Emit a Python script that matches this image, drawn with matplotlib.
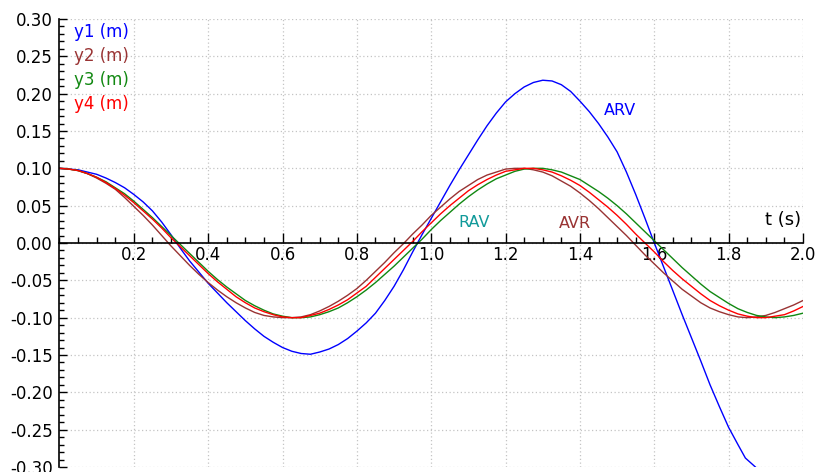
import matplotlib
matplotlib.use("Agg")
import matplotlib.pyplot as plt
from matplotlib.ticker import MultipleLocator, FormatStrFormatter

plt.rcParams['font.family'] = ['DejaVu Sans']
plt.rcParams['axes.unicode_minus'] = False

# time samples (s)
t = [0.000, 0.025, 0.050, 0.075, 0.100, 0.125, 0.150, 0.175, 0.200, 0.225,
     0.250, 0.275, 0.300, 0.325, 0.350, 0.375, 0.400, 0.425, 0.450, 0.475,
     0.500, 0.525, 0.550, 0.575, 0.600, 0.625, 0.650, 0.675, 0.700, 0.725,
     0.750, 0.775, 0.800, 0.825, 0.850, 0.875, 0.900, 0.925, 0.950, 0.975,
     1.000, 1.025, 1.050, 1.075, 1.100, 1.125, 1.150, 1.175, 1.200, 1.225,
     1.250, 1.275, 1.300, 1.325, 1.350, 1.375, 1.400, 1.425, 1.450, 1.475,
     1.500, 1.525, 1.550, 1.575, 1.600, 1.625, 1.650, 1.675, 1.700, 1.725,
     1.750, 1.775, 1.800, 1.825, 1.850, 1.875, 1.900, 1.925, 1.950, 1.975,
     2.000]

# y1 (ARV) leaves the plot at the bottom, so it stops early
t1 = t[:74] + [1.845, 1.872]
y1 = [0.100, 0.099, 0.098, 0.095, 0.092, 0.087, 0.081, 0.074, 0.065, 0.055,
      0.043, 0.028, 0.011, -0.007, -0.024, -0.039, -0.054, -0.067, -0.080, -0.092,
      -0.104, -0.115, -0.125, -0.133, -0.140, -0.145, -0.148, -0.149, -0.146, -0.142,
      -0.136, -0.128, -0.118, -0.107, -0.094, -0.077, -0.058, -0.036, -0.012, 0.011,
      0.033, 0.055, 0.077, 0.098, 0.118, 0.138, 0.157, 0.174, 0.189, 0.200,
      0.209, 0.215, 0.218, 0.217, 0.212, 0.203, 0.190, 0.176, 0.160, 0.142,
      0.122, 0.095, 0.065, 0.033, 0.000, -0.032, -0.064, -0.096, -0.127, -0.158,
      -0.190, -0.219, -0.247, -0.270, -0.288, -0.300]

y2 = [0.100, 0.099, 0.097, 0.093, 0.087, 0.080, 0.072, 0.061, 0.049, 0.037,
      0.024, 0.010, -0.004, -0.017, -0.030, -0.042, -0.053, -0.063, -0.072, -0.080,
      -0.087, -0.093, -0.097, -0.099, -0.100, -0.100, -0.099, -0.096, -0.091, -0.085,
      -0.078, -0.070, -0.061, -0.050, -0.038, -0.026, -0.013, -0.001, 0.012, 0.024,
      0.037, 0.048, 0.059, 0.069, 0.077, 0.085, 0.091, 0.095, 0.099, 0.100,
      0.100, 0.098, 0.095, 0.090, 0.083, 0.076, 0.067, 0.057, 0.046, 0.034,
      0.022, 0.010, -0.003, -0.016, -0.028, -0.040, -0.051, -0.062, -0.071, -0.080,
      -0.087, -0.092, -0.096, -0.099, -0.100, -0.099, -0.097, -0.093, -0.088, -0.083,
      -0.077]

y3 = [0.100, 0.099, 0.097, 0.093, 0.088, 0.082, 0.074, 0.066, 0.056, 0.045,
      0.034, 0.022, 0.010, -0.002, -0.014, -0.026, -0.038, -0.049, -0.059, -0.068,
      -0.077, -0.084, -0.090, -0.095, -0.098, -0.100, -0.100, -0.099, -0.096, -0.092,
      -0.087, -0.080, -0.072, -0.063, -0.053, -0.042, -0.031, -0.019, -0.007, 0.005,
      0.018, 0.030, 0.041, 0.052, 0.062, 0.071, 0.079, 0.086, 0.091, 0.096,
      0.099, 0.100, 0.100, 0.098, 0.095, 0.090, 0.085, 0.077, 0.069, 0.060,
      0.050, 0.039, 0.027, 0.015, 0.003, -0.009, -0.021, -0.033, -0.044, -0.055,
      -0.065, -0.073, -0.081, -0.088, -0.093, -0.097, -0.099, -0.100, -0.099, -0.097,
      -0.094]

y4 = [0.100, 0.099, 0.097, 0.093, 0.088, 0.081, 0.073, 0.064, 0.054, 0.043,
      0.032, 0.020, 0.007, -0.005, -0.017, -0.029, -0.041, -0.052, -0.062, -0.072,
      -0.080, -0.087, -0.092, -0.096, -0.099, -0.100, -0.100, -0.097, -0.094, -0.089,
      -0.083, -0.076, -0.067, -0.058, -0.046, -0.034, -0.022, -0.010, 0.002, 0.015,
      0.027, 0.039, 0.050, 0.060, 0.070, 0.078, 0.085, 0.091, 0.096, 0.098,
      0.100, 0.100, 0.098, 0.095, 0.090, 0.084, 0.077, 0.068, 0.058, 0.048,
      0.037, 0.025, 0.012, 0.000, -0.012, -0.025, -0.037, -0.048, -0.058, -0.068,
      -0.077, -0.084, -0.090, -0.095, -0.098, -0.100, -0.100, -0.098, -0.096, -0.091,
      -0.085]

x_ticks = [0.2, 0.4, 0.6, 0.8, 1.0, 1.2, 1.4, 1.6, 1.8, 2.0]
y_ticks = [-0.30, -0.25, -0.20, -0.15, -0.10, -0.05, 0.00,
           0.05, 0.10, 0.15, 0.20, 0.25, 0.30]

series_names = ["y1 (m)", "y2 (m)", "y3 (m)", "y4 (m)"]
colors = ["#0000ff", "#993333", "#118811", "#ff0000"]

fig = plt.figure(figsize=(8.15, 4.72), dpi=100)
ax = fig.add_axes([59.5 / 815, 5 / 472, 743.5 / 815, 448 / 472])

ax.plot(t1, y1, color=colors[0], lw=1.0)
ax.plot(t, y2, color=colors[1], lw=1.0)
ax.plot(t, y3, color=colors[2], lw=1.0)
ax.plot(t, y4, color=colors[3], lw=1.0)

ax.set_xlim(0, 2.0)
ax.set_ylim(-0.30, 0.30)

# axes cross at the origin, no box
ax.spines['left'].set_position(('data', 0))
ax.spines['bottom'].set_position(('data', 0))
ax.spines['top'].set_visible(False)
ax.spines['right'].set_visible(False)
ax.spines['left'].set_linewidth(1.2)
ax.spines['bottom'].set_linewidth(1.2)

ax.set_xticks(x_ticks)
ax.set_yticks(y_ticks)
ax.xaxis.set_minor_locator(MultipleLocator(0.05))
ax.yaxis.set_minor_locator(MultipleLocator(0.01))
ax.xaxis.set_major_formatter(FormatStrFormatter('%.1f'))
ax.yaxis.set_major_formatter(FormatStrFormatter('%.2f'))

ax.tick_params(axis='x', which='major', direction='in', length=7.5, width=1, pad=2, labelsize=12)
ax.tick_params(axis='x', which='minor', direction='in', length=4.5, width=1)
ax.tick_params(axis='y', which='major', direction='in', length=6, width=1, pad=5, labelsize=12)
ax.tick_params(axis='y', which='minor', direction='in', length=3.5, width=1)

ax.grid(True, which='major', color='#c4c4c4', linestyle=(0, (1, 2)), linewidth=0.9)
ax.set_axisbelow(True)

ax.text(1.995, 0.031, "t (s)", ha='right', va='center', fontsize=13)

for i, name in enumerate(series_names):
    ax.text(0.0195, 0.9717 - 0.0537 * i, name, color=colors[i], fontsize=12,
            ha='left', va='center', transform=ax.transAxes)

ax.text(1.115, 0.028, "RAV", color="#119a9a", fontsize=11.5, ha='center', va='center')
ax.text(1.386, 0.026, "AVR", color="#993333", fontsize=11.5, ha='center', va='center')
ax.text(1.509, 0.177, "ARV", color="#0000ff", fontsize=11.5, ha='center', va='center')

fig.savefig("out.png", dpi=100)
